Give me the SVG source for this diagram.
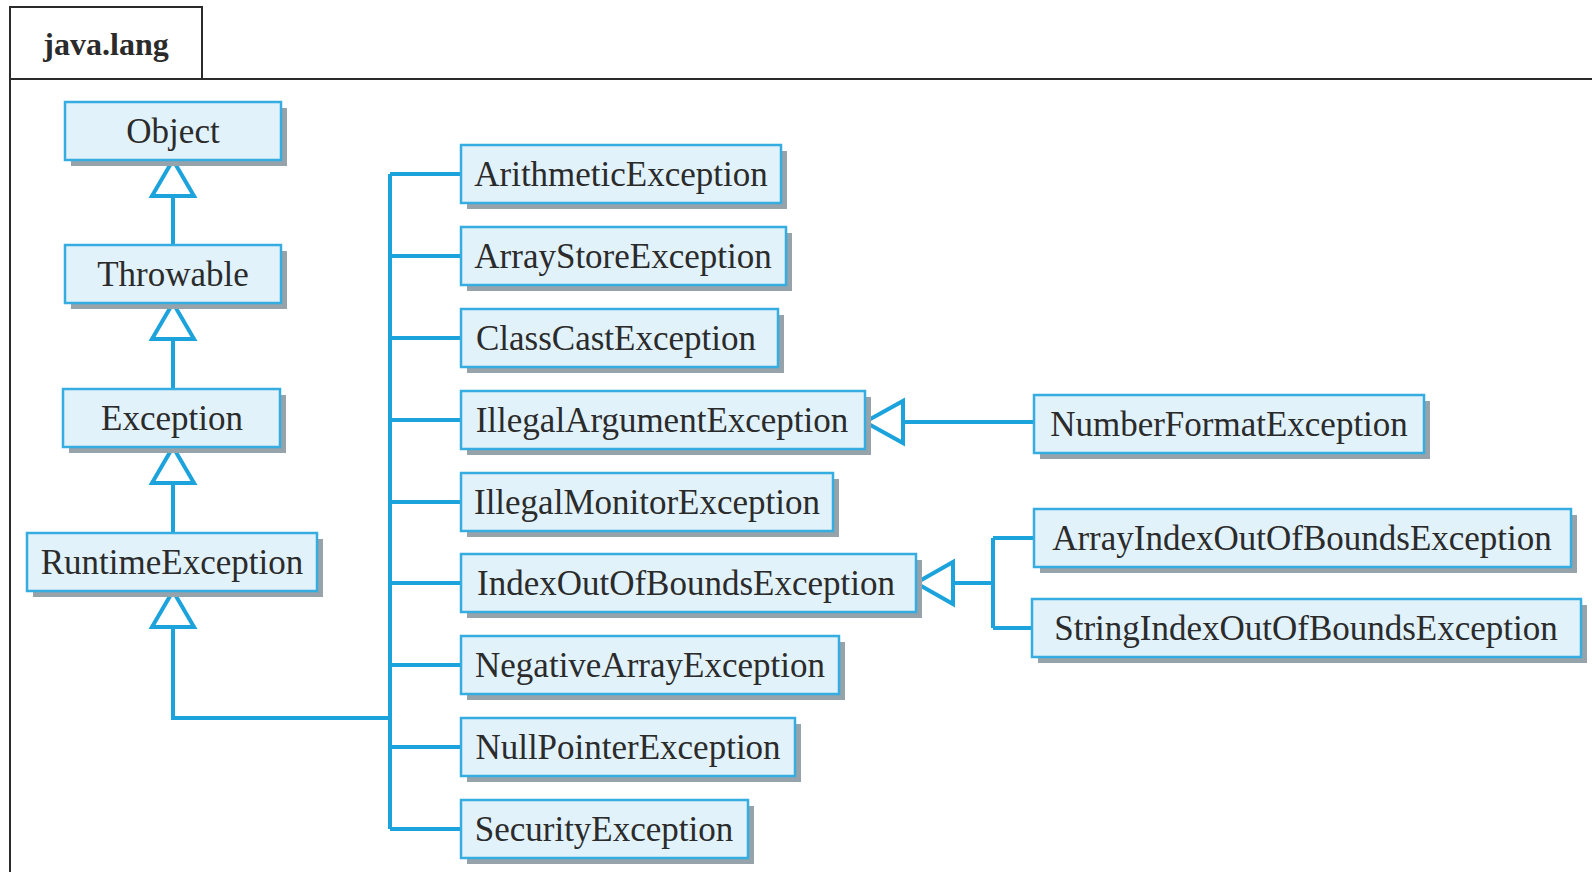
<svg xmlns="http://www.w3.org/2000/svg" width="1592" height="872" viewBox="0 0 1592 872">
<style>
.sh{fill:#97a3aa}
.bx{fill:#e1f2fb;stroke:#35ade0;stroke-width:2.5}
.t{font-family:"Liberation Serif","Times New Roman",serif;font-size:35px;fill:#2b2b2b;text-anchor:middle}
.c{fill:none;stroke:#1ca3dc;stroke-width:4}
.tri{fill:#ffffff;stroke:#1ca3dc;stroke-width:4;stroke-linejoin:miter}
</style>
<rect x="0" y="0" width="1592" height="872" fill="#ffffff"/>
<g id="package">
<path d="M10,872 V7 H202 V79" fill="none" stroke="#2b2b2b" stroke-width="2"/>
<line x1="10" y1="79" x2="1592" y2="79" stroke="#2b2b2b" stroke-width="2"/>
<text x="106" y="55" style="font-family:'Liberation Serif','Times New Roman',serif;font-size:32px;font-weight:bold;fill:#2b2b2b;text-anchor:middle">java.lang</text>
</g>
<g id="connectors">
<path class="c" d="M173,196 V245 M173,339 V389 M173,483 V533 M173,627 V718 H390"/>
<path class="c" d="M390,174 V829 M390,174 H461 M390,256 H461 M390,338 H461 M390,420 H461 M390,502 H461 M390,583 H461 M390,665 H461 M390,747 H461 M390,829 H461"/>
<path class="c" d="M903,422 H1034"/>
<path class="c" d="M953,583 H993 M993,538 V628 M993,538 H1034 M993,628 H1032"/>
<polygon class="tri" points="173,160 194,196 152,196"/>
<polygon class="tri" points="173,303 194,339 152,339"/>
<polygon class="tri" points="173,447 194,483 152,483"/>
<polygon class="tri" points="173,591 194,627 152,627"/>
<polygon class="tri" points="865,422 903,401 903,443"/>
<polygon class="tri" points="916,583 953,562 953,604"/>
</g>
<g id="Object"><rect class="sh" x="71" y="108" width="216" height="58"/><rect class="bx" x="65" y="102" width="216" height="58"/><text class="t" x="173" y="143">Object</text></g>
<g id="Throwable"><rect class="sh" x="71" y="251" width="216" height="58"/><rect class="bx" x="65" y="245" width="216" height="58"/><text class="t" x="173" y="286">Throwable</text></g>
<g id="Exception"><rect class="sh" x="69" y="395" width="217" height="58"/><rect class="bx" x="63" y="389" width="217" height="58"/><text class="t" x="172" y="430">Exception</text></g>
<g id="RuntimeException"><rect class="sh" x="33" y="539" width="290" height="58"/><rect class="bx" x="27" y="533" width="290" height="58"/><text class="t" x="172" y="574">RuntimeException</text></g>
<g id="ArithmeticException"><rect class="sh" x="467" y="151" width="320" height="58"/><rect class="bx" x="461" y="145" width="320" height="58"/><text class="t" x="621" y="186">ArithmeticException</text></g>
<g id="ArrayStoreException"><rect class="sh" x="467" y="233" width="325" height="58"/><rect class="bx" x="461" y="227" width="325" height="58"/><text class="t" x="623" y="268">ArrayStoreException</text></g>
<g id="ClassCastException"><rect class="sh" x="467" y="315" width="317" height="58"/><rect class="bx" x="461" y="309" width="317" height="58"/><text class="t" x="616" y="350">ClassCastException</text></g>
<g id="IllegalArgumentException"><rect class="sh" x="467" y="397" width="404" height="58"/><rect class="bx" x="461" y="391" width="404" height="58"/><text class="t" x="662" y="432">IllegalArgumentException</text></g>
<g id="IllegalMonitorException"><rect class="sh" x="467" y="479" width="372" height="58"/><rect class="bx" x="461" y="473" width="372" height="58"/><text class="t" x="647" y="514">IllegalMonitorException</text></g>
<g id="IndexOutOfBoundsException"><rect class="sh" x="467" y="560" width="455" height="58"/><rect class="bx" x="461" y="554" width="455" height="58"/><text class="t" x="686" y="595">IndexOutOfBoundsException</text></g>
<g id="NegativeArrayException"><rect class="sh" x="467" y="642" width="378" height="58"/><rect class="bx" x="461" y="636" width="378" height="58"/><text class="t" x="650" y="677">NegativeArrayException</text></g>
<g id="NullPointerException"><rect class="sh" x="467" y="724" width="334" height="58"/><rect class="bx" x="461" y="718" width="334" height="58"/><text class="t" x="628" y="759">NullPointerException</text></g>
<g id="SecurityException"><rect class="sh" x="467" y="806" width="287" height="58"/><rect class="bx" x="461" y="800" width="287" height="58"/><text class="t" x="604" y="841">SecurityException</text></g>
<g id="NumberFormatException"><rect class="sh" x="1040" y="401" width="390" height="58"/><rect class="bx" x="1034" y="395" width="390" height="58"/><text class="t" x="1229" y="436">NumberFormatException</text></g>
<g id="ArrayIndexOutOfBoundsException"><rect class="sh" x="1040" y="515" width="537" height="58"/><rect class="bx" x="1034" y="509" width="537" height="58"/><text class="t" x="1302" y="550">ArrayIndexOutOfBoundsException</text></g>
<g id="StringIndexOutOfBoundsException"><rect class="sh" x="1038" y="605" width="549" height="58"/><rect class="bx" x="1032" y="599" width="549" height="58"/><text class="t" x="1306" y="640">StringIndexOutOfBoundsException</text></g>
</svg>
